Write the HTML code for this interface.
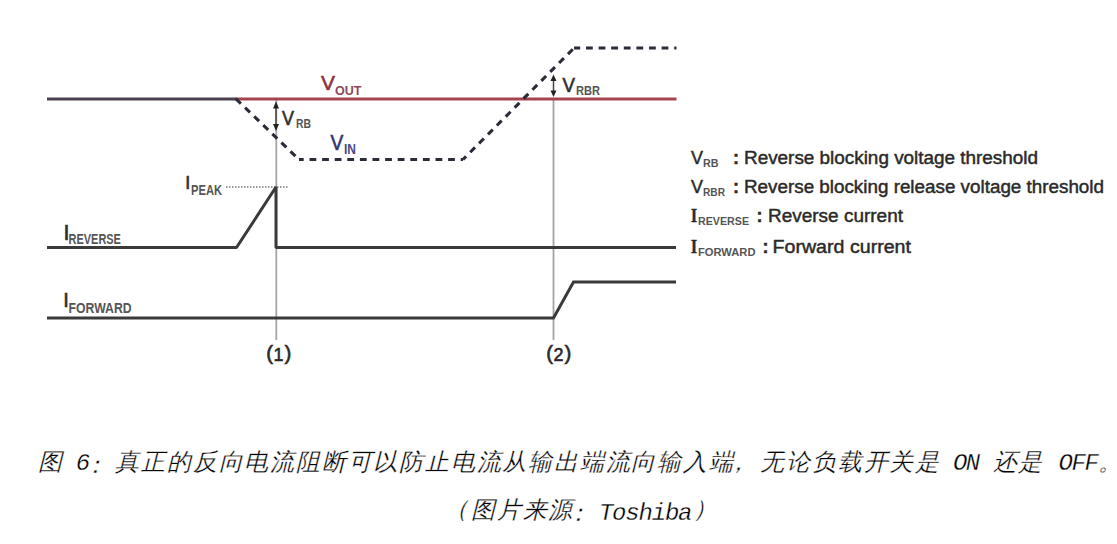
<!DOCTYPE html>
<html><head><meta charset="utf-8">
<style>
html,body{margin:0;padding:0;background:#fff;width:1117px;height:544px;overflow:hidden}
svg{position:absolute;left:0;top:0}
.dg{}
.lb{font-family:"Liberation Sans",sans-serif;fill:#2e2e2e;stroke:#2e2e2e;stroke-width:0.6px}
.sub{font-family:"Liberation Sans",sans-serif;font-weight:bold;fill:#555}
.lg{font-family:"Liberation Sans",sans-serif;fill:#2a2a2a;stroke:#2a2a2a;stroke-width:0.45px;font-size:18px}
.lgs{font-family:"Liberation Sans",sans-serif;fill:#555;font-size:11px;font-weight:bold}
.num text{font-family:"Liberation Sans",sans-serif;fill:#2a2a2a;stroke:#2a2a2a;stroke-width:0.6px}
.cap{font-family:"Liberation Mono",monospace;font-style:italic;font-size:24px;fill:#000;stroke:#fff;stroke-width:0.3px}
</style></head>
<body>
<svg class="dg" width="1117" height="544" viewBox="0 0 1117 544">
  <g>
  <!-- grey guide lines -->
  <line x1="276.3" y1="100" x2="276.3" y2="340" stroke="#a4a4a4" stroke-width="1.8"/>
  <line x1="553.5" y1="100" x2="553.5" y2="340" stroke="#a4a4a4" stroke-width="1.8"/>
  <!-- V_OUT red line -->
  <line x1="236" y1="99" x2="676.5" y2="99" stroke="#a5444e" stroke-width="3"/>
  <!-- overlapped left part -->
  <line x1="47" y1="99" x2="237" y2="99" stroke="#4a3f50" stroke-width="3"/>
  <!-- V_IN dashed -->
  <g fill="none" stroke="#2c2b38" stroke-width="3.1" stroke-dasharray="6.8 5.8">
    <path d="M236 99 L299 159.5" stroke-dashoffset="0"/>
    <path d="M299 159.5 L463 159.5" stroke-dashoffset="2.1"/>
    <path d="M463 159.5 L574 48" stroke-dashoffset="2.4"/>
    <path d="M574 48 L676.5 48" stroke-dashoffset="0.6"/>
  </g>
  <!-- V_RB arrow -->
  <line x1="276" y1="106" x2="276" y2="126" stroke="#444" stroke-width="1.5"/>
  <path d="M276 101.5 L273 108.5 L279 108.5 Z M276 131 L273 124 L279 124 Z" fill="#222"/>
  <!-- V_RBR arrow -->
  <line x1="553.5" y1="78" x2="553.5" y2="93" stroke="#444" stroke-width="1.5"/>
  <path d="M553.5 74.5 L550.5 81 L556.5 81 Z M553.5 97 L550.5 90.5 L556.5 90.5 Z" fill="#222"/>
  <!-- I_PEAK dotted -->
  <line x1="226" y1="187" x2="288" y2="187" stroke="#777" stroke-width="1.4" stroke-dasharray="1.5 1.5"/>
  <!-- I_REVERSE -->
  <path d="M47 247.5 L236.5 247.5 L276 187 L276 247.5 L676 247.5" fill="none" stroke="#3a3a3a" stroke-width="3" stroke-linejoin="bevel"/>
  <!-- I_FORWARD -->
  <path d="M47 318 L553.5 318 L573.5 282 L676 282" fill="none" stroke="#3a3a3a" stroke-width="3"/>

  <!-- labels -->
  <text class="lb" x="321" y="90.2" font-size="21" style="fill:#8e3440;stroke:#8e3440" textLength="14" lengthAdjust="spacingAndGlyphs">V</text>
  <text class="sub" x="335" y="94.8" font-size="12.5" style="fill:#8a4a58" textLength="26.5" lengthAdjust="spacingAndGlyphs">OUT</text>

  <text class="lb" x="282" y="124.5" font-size="20" textLength="12" lengthAdjust="spacingAndGlyphs">V</text>
  <text class="sub" x="296" y="128" font-size="12.5" textLength="15" lengthAdjust="spacingAndGlyphs">RB</text>

  <text class="lb" x="330.5" y="149.5" font-size="21.5" style="fill:#33336e;stroke:#33336e" textLength="12.8" lengthAdjust="spacingAndGlyphs">V</text>
  <text class="sub" x="344" y="154" font-size="13.8" style="fill:#4a4a80" textLength="12" lengthAdjust="spacingAndGlyphs">IN</text>

  <text class="lb" x="562.5" y="92" font-size="20" textLength="12.5" lengthAdjust="spacingAndGlyphs">V</text>
  <text class="sub" x="576" y="95" font-size="12" textLength="24" lengthAdjust="spacingAndGlyphs">RBR</text>

  <text class="lb" x="185.3" y="189" font-size="18">I</text>
  <text class="sub" x="191" y="195" font-size="14" textLength="31" lengthAdjust="spacingAndGlyphs">PEAK</text>

  <text class="lb" x="63.6" y="240.4" font-size="21.5">I</text>
  <text class="sub" x="68.6" y="244" font-size="14.5" textLength="52.3" lengthAdjust="spacingAndGlyphs">REVERSE</text>

  <text class="lb" x="63.3" y="307" font-size="20">I</text>
  <text class="sub" x="68.6" y="312.5" font-size="15" textLength="63" lengthAdjust="spacingAndGlyphs">FORWARD</text>

  <g class="num">
  <text x="266.3" y="360.3" font-size="20.5">(</text><text x="273.6" y="360.6" font-size="19" textLength="10" lengthAdjust="spacingAndGlyphs">1</text><text x="284.6" y="360.3" font-size="20.5">)</text>
  <text x="546.3" y="360.3" font-size="20.5">(</text><text x="553.5" y="360.6" font-size="19" textLength="10" lengthAdjust="spacingAndGlyphs">2</text><text x="564.6" y="360.3" font-size="20.5">)</text>
  </g>
  

  <!-- legend -->
  <text class="lg" x="691" y="164.3" textLength="12" lengthAdjust="spacingAndGlyphs">V</text>
  <text class="lgs" x="703" y="167" textLength="15.5" lengthAdjust="spacingAndGlyphs">RB</text>
  <text class="lg" x="733" y="164.3" font-weight="bold">:</text>
  <text class="lg" x="744" y="164.3" textLength="294" lengthAdjust="spacingAndGlyphs">Reverse blocking voltage threshold</text>

  <text class="lg" x="691" y="193" textLength="12" lengthAdjust="spacingAndGlyphs">V</text>
  <text class="lgs" x="703" y="196" textLength="22" lengthAdjust="spacingAndGlyphs">RBR</text>
  <text class="lg" x="733" y="193" font-weight="bold">:</text>
  <text class="lg" x="744" y="193" textLength="360" lengthAdjust="spacingAndGlyphs">Reverse blocking release voltage threshold</text>

  <text class="lg" x="691" y="222" style="font-family:'Liberation Serif',serif;font-weight:bold" textLength="6" lengthAdjust="spacingAndGlyphs">I</text>
  <text class="lgs" x="698" y="225" textLength="51" lengthAdjust="spacingAndGlyphs">REVERSE</text>
  <text class="lg" x="756.5" y="222" font-weight="bold">:</text>
  <text class="lg" x="768" y="222" textLength="135" lengthAdjust="spacingAndGlyphs">Reverse current</text>

  <text class="lg" x="691" y="252.5" style="font-family:'Liberation Serif',serif;font-weight:bold" textLength="6" lengthAdjust="spacingAndGlyphs">I</text>
  <text class="lgs" x="698" y="255.5" textLength="57.5" lengthAdjust="spacingAndGlyphs">FORWARD</text>
  <text class="lg" x="762.5" y="252.5" font-weight="bold">:</text>
  <text class="lg" x="772.5" y="252.5" textLength="138.5" lengthAdjust="spacingAndGlyphs">Forward current</text>

  </g>
</svg>
<svg width="1117" height="544" viewBox="0 0 1117 544">
  <!-- caption -->
  <text class="cap" x="38.0 62.8 75.7 83.1 115.4 141.2 167.0 192.8 218.6 244.4 270.2 296.0 321.8 347.6 373.4 399.2 425.0 450.8 476.6 502.4 528.2 554.0 579.8 605.6 631.4 657.2 683.0 708.8 725.6 760.4 786.2 812.0 837.8 863.6 889.4 915.2 940.0 952.9 965.8 978.7 992.6 1018.4 1043.2 1058.6 1071.5 1084.4 1098.3" y="470.0 470.0 470.0 472.5 470.0 470.0 470.0 470.0 470.0 470.0 470.0 470.0 470.0 470.0 470.0 470.0 470.0 470.0 470.0 470.0 470.0 470.0 470.0 470.0 470.0 470.0 470.0 470.0 470.0 470.0 470.0 470.0 470.0 470.0 470.0 470.0 470.0 470.0 470.0 470.0 470.0 470.0 470.0 470.0 470.0 470.0 470.0">图 6：真正的反向电流阻断可以防止电流从输出端流向输入端，无论负载开关是 ON 还是 OFF。</text>
  <text class="cap" x="444.1 470.9 496.7 522.5 548.3 566.1 598.9 612.1 625.3 638.5 651.7 664.9 678.1 693.2" y="516.5 518.0 518.0 518.0 518.0 520.5 519.5 519.5 519.5 519.5 519.5 519.5 519.5 516.5">（图片来源：Toshiba）</text>
</svg>
</body></html>
